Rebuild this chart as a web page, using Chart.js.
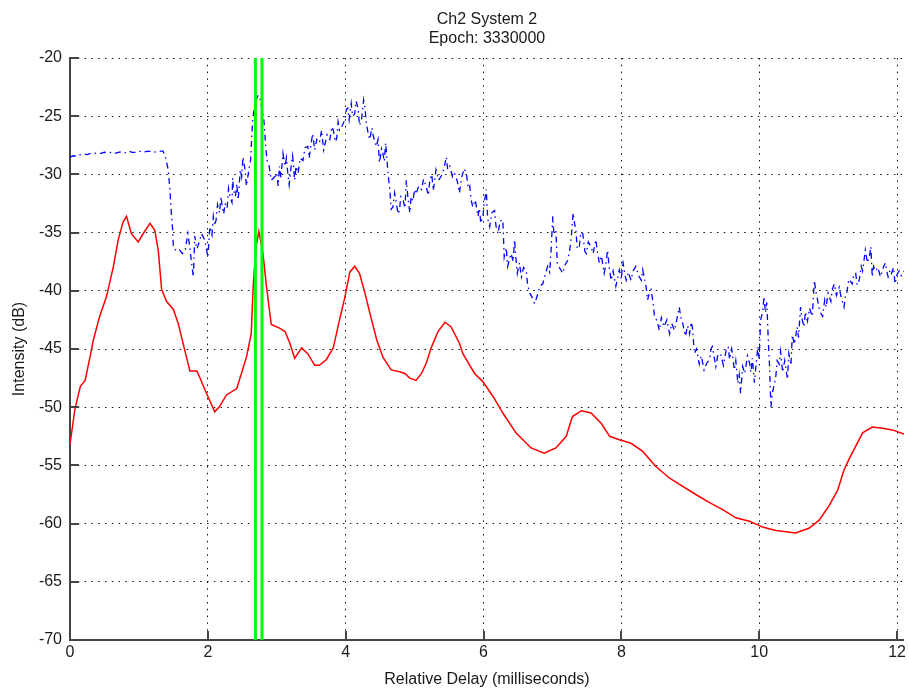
<!DOCTYPE html>
<html>
<head>
<meta charset="utf-8">
<title>Ch2 System 2</title>
<script src="https://cdn.jsdelivr.net/npm/chart.js@4/dist/chart.umd.min.js"></script>
<style>
  body { margin: 0; background: #fff; }
  canvas { display: block; }
</style>
</head>
<body>
<canvas id="delayPlot" width="909" height="692"></canvas>
<script>
// measured channel, dash-dot blue (delay in ms, level in dB)
var blueDelay = [
    0.00, 0.05, 0.10, 0.15, 0.20, 0.25, 0.30, 0.35, 0.40, 0.45, 0.50, 0.55, 0.60, 0.65, 0.70, 0.75, 0.80, 0.85, 0.90, 0.95,
    1.00, 1.05, 1.10, 1.15, 1.20, 1.25, 1.30, 1.35, 1.38, 1.40, 1.425, 1.45, 1.47, 1.49, 1.50, 1.55, 1.59, 1.63, 1.67, 1.69,
    1.71, 1.74, 1.76, 1.79, 1.81, 1.84, 1.86, 1.91, 1.96, 2.00,
    2.03, 2.06, 2.08, 2.10, 2.12, 2.14, 2.17, 2.19, 2.21, 2.23, 2.25, 2.28, 2.30, 2.32, 2.35, 2.36, 2.37, 2.40, 2.42, 2.44,
    2.45, 2.47, 2.49, 2.51, 2.54, 2.56, 2.58, 2.60, 2.62, 2.65, 2.67, 2.70, 2.73, 2.75, 2.78, 2.81, 2.84, 2.86, 2.89, 2.92,
    2.97,
    3.00, 3.02, 3.04, 3.06, 3.09, 3.12, 3.14, 3.16, 3.18, 3.21, 3.23, 3.26, 3.28, 3.31, 3.34, 3.38, 3.41, 3.45, 3.47, 3.50,
    3.52, 3.55, 3.58, 3.62, 3.65, 3.68, 3.70, 3.73, 3.77, 3.80, 3.82, 3.85, 3.87, 3.89, 3.91, 3.95, 3.99, 4.01, 4.03, 4.05,
    4.08, 4.10, 4.13, 4.15, 4.18, 4.20, 4.23, 4.26, 4.28,
    4.30, 4.33, 4.35, 4.38, 4.40, 4.445, 4.47, 4.49, 4.52, 4.54, 4.56, 4.58, 4.61, 4.63, 4.64, 4.66, 4.685, 4.71, 4.73, 4.76,
    4.78, 4.80, 4.83, 4.86, 4.88, 4.90, 4.93, 4.95, 4.975, 5.00, 5.02, 5.06, 5.10, 5.13, 5.17, 5.20, 5.22, 5.25, 5.27, 5.29,
    5.31, 5.35, 5.39, 5.43, 5.46, 5.48, 5.51, 5.55, 5.58, 5.62, 5.65, 5.68, 5.72, 5.75, 5.78, 5.80, 5.82, 5.845, 5.88, 5.92,
    5.94, 5.96, 5.99,
    6.01, 6.04, 6.06, 6.09, 6.12, 6.16, 6.18, 6.21, 6.24, 6.28, 6.30, 6.33, 6.35, 6.38, 6.40, 6.43, 6.45, 6.47, 6.49, 6.52,
    6.55, 6.58, 6.62, 6.64, 6.67, 6.70, 6.74, 6.77, 6.79, 6.82, 6.86, 6.89, 6.93, 6.96, 6.98, 7.005, 7.02, 7.05, 7.07, 7.10,
    7.15, 7.18, 7.22, 7.25, 7.27, 7.30, 7.32, 7.34, 7.36, 7.39, 7.41, 7.44, 7.47, 7.49, 7.52, 7.56, 7.59, 7.63, 7.65, 7.68,
    7.71, 7.75, 7.77, 7.80, 7.82, 7.85, 7.88, 7.92, 7.95, 7.97,
    8.00, 8.02, 8.05, 8.07, 8.10, 8.14, 8.17, 8.21, 8.25, 8.29, 8.31, 8.33, 8.36, 8.38, 8.41, 8.43, 8.46, 8.48, 8.52, 8.55,
    8.58, 8.62, 8.66, 8.70, 8.73, 8.77, 8.80, 8.84, 8.86, 8.89, 8.93, 8.96, 8.99, 9.01, 9.03, 9.06, 9.09, 9.13, 9.16, 9.20,
    9.24, 9.28, 9.30, 9.32, 9.35, 9.37, 9.40, 9.44, 9.48, 9.52, 9.55, 9.57, 9.60, 9.64, 9.66, 9.69, 9.71, 9.73, 9.76, 9.79,
    9.83, 9.86, 9.88, 9.90, 9.93, 9.95, 9.98, 10.00,
    10.02, 10.05, 10.07, 10.09, 10.11, 10.13, 10.15, 10.17, 10.19, 10.22, 10.24, 10.26, 10.29, 10.31, 10.34, 10.37, 10.41, 10.43, 10.46, 10.48,
    10.51, 10.55, 10.57, 10.60, 10.62, 10.65, 10.67, 10.70, 10.73, 10.77, 10.80, 10.82, 10.85, 10.88, 10.92, 10.95, 10.97, 11.00, 11.04, 11.06,
    11.09, 11.12, 11.16, 11.19, 11.23, 11.25, 11.27, 11.30, 11.35, 11.37, 11.40, 11.42, 11.45, 11.48, 11.50, 11.52, 11.54, 11.57, 11.60, 11.62,
    11.64, 11.66, 11.69, 11.72, 11.76, 11.80, 11.83, 11.85, 11.87, 11.90, 11.92, 11.95, 11.97, 12.00, 12.03, 12.06, 12.10];
var blueLevel = [
    -28.5, -28.4, -28.45, -28.3, -28.25, -28.3, -28.2, -28.2, -28.15, -28.2, -28.1, -28.15, -28.1, -28.2, -28.1, -28.05, -28.15, -28.0, -28.1, -28.1,
    -28.0, -28.1, -28.05, -28.0, -28.1, -28.05, -28.0, -28.0, -28.4, -28.9, -29.6, -31.3, -33.3, -34.8, -36.3, -36.6, -36.5, -36.8, -36.6, -35.8,
    -35.1, -36.3, -37.4, -38.8, -35.3, -36.4, -36.1, -35.1, -35.7, -37.1,
    -34.5, -35.2, -33.6, -34.4, -33.9, -32.6, -33.3, -31.9, -32.8, -33.4, -32.5, -32.9, -31.2, -31.9, -32.4, -30.3, -31.3, -31.9, -30.8, -32.2,
    -31.4, -29.6, -30.2, -28.5, -29.6, -31.0, -30.2, -29.4, -28.8, -25.3, -24.5, -23.6, -23.2, -23.3, -24.2, -25.1, -27.6, -28.8, -29.3, -30.5,
    -30.2,
    -29.9, -31.0, -29.3, -30.3, -28.2, -29.3, -28.6, -29.9, -30.9, -29.2, -28.4, -30.5, -29.3, -29.9, -28.6, -28.8, -27.7, -27.6, -28.6, -27.3,
    -26.5, -27.9, -27.0, -27.3, -26.2, -27.9, -27.4, -26.6, -27.0, -25.9, -26.2, -27.2, -26.9, -25.5, -26.2, -25.8, -25.3, -24.4, -24.3, -25.3,
    -23.9, -25.0, -24.8, -23.7, -24.3, -25.8, -25.3, -23.6, -24.3,
    -25.6, -26.6, -27.0, -26.0, -26.7, -27.6, -27.0, -29.0, -27.8, -28.2, -28.9, -27.3, -29.6, -30.8, -31.3, -33.0, -32.8, -31.6, -32.3, -33.4,
    -33.1, -31.9, -32.1, -32.9, -30.5, -31.8, -33.3, -31.9, -32.3, -31.3, -31.7, -31.0, -31.3, -30.4, -31.1, -31.8, -30.5, -30.0, -31.4, -30.6,
    -29.6, -30.5, -30.1, -29.4, -28.5, -29.6, -29.3, -30.2, -29.9, -30.6, -31.6, -30.3, -29.5, -29.9, -31.2, -31.0, -32.2, -32.8, -32.2, -33.6,
    -32.9, -34.2, -33.6,
    -32.5, -31.3, -33.8, -34.5, -33.3, -33.1, -34.4, -35.1, -34.0, -33.9, -37.1, -36.3, -37.9, -37.2, -36.8, -37.5, -35.6, -37.2, -38.5, -37.6,
    -38.8, -38.0, -38.3, -39.5, -40.2, -40.5, -41.1, -40.6, -40.2, -39.6, -39.4, -38.7, -37.9, -38.4, -36.5, -33.6, -35.0, -34.8, -37.6, -38.0,
    -38.5, -37.8, -37.4, -36.5, -35.6, -33.3, -34.2, -34.8, -36.4, -36.2, -35.0, -35.1, -36.6, -36.8, -35.8, -36.2, -36.8, -35.6, -36.6, -37.6,
    -37.0, -38.5, -37.9, -36.5, -37.8, -39.1, -38.3, -39.6, -38.8, -38.2,
    -39.0, -37.4, -38.6, -39.1, -38.4, -39.1, -38.3, -37.9, -38.7, -39.1, -38.2, -38.8, -39.7, -40.8, -40.1, -39.9, -41.0, -42.2, -42.6, -43.4,
    -42.3, -43.1, -42.5, -43.7, -42.8, -43.4, -42.6, -41.4, -42.2, -42.8, -43.9, -43.0, -43.7, -42.7, -43.1, -45.4, -45.0, -46.3, -45.6, -46.8,
    -46.2, -45.9, -45.0, -44.8, -45.8, -46.5, -45.5, -45.4, -46.4, -45.1, -44.8, -45.9, -45.0, -46.8, -46.0, -47.95, -47.2, -48.8, -46.5, -47.1,
    -45.6, -46.2, -47.0, -45.8, -47.9, -46.6, -44.8, -45.9,
    -42.5, -41.8, -40.5, -41.9, -41.0, -44.0, -46.5, -50.0, -48.8, -48.0, -47.4, -46.0, -46.3, -45.2, -47.0, -46.0, -47.6, -45.4, -46.4, -43.8,
    -44.6, -43.1, -44.0, -41.4, -42.4, -43.1, -41.8, -42.6, -41.5, -42.2, -39.1, -40.0, -40.9, -41.8, -42.2, -40.8, -41.4, -40.2, -40.9, -39.9,
    -39.4, -40.4, -39.7, -40.6, -41.4, -40.5, -40.2, -39.0, -39.4, -38.6, -38.5, -39.5, -39.1, -37.9, -38.3, -37.4, -36.5, -37.6, -37.0, -36.2,
    -38.8, -37.9, -38.3, -38.0, -38.8, -38.0, -37.6, -38.3, -38.8, -38.2, -38.5, -38.0, -39.4, -38.6, -38.3, -38.7, -38.3];

// smoothed channel, solid red
var redDelay = [0.00, 0.07, 0.15, 0.22, 0.30, 0.34, 0.43, 0.53, 0.63, 0.70, 0.77, 0.82, 0.89, 0.99, 1.06, 1.16, 1.23, 1.28, 1.33, 1.40,
    1.50, 1.57, 1.64, 1.74, 1.84, 1.88, 1.98, 2.10, 2.17, 2.27, 2.42, 2.56, 2.63, 2.66, 2.70, 2.74, 2.80, 2.85, 2.92, 3.04,
    3.12, 3.19, 3.26, 3.36, 3.45, 3.55, 3.62, 3.72, 3.82, 3.91, 3.99, 4.06, 4.13, 4.20, 4.28, 4.35, 4.45, 4.54, 4.66, 4.78,
    4.86, 4.93, 5.02, 5.10, 5.17, 5.24, 5.34, 5.44, 5.53, 5.65, 5.70, 5.87, 5.99, 6.14, 6.28, 6.47, 6.69, 6.88, 7.05, 7.20,
    7.29, 7.42, 7.56, 7.71, 7.83, 7.97, 8.14, 8.31, 8.50, 8.70, 8.89, 9.08, 9.28, 9.47, 9.66, 9.86, 10.05, 10.24, 10.53, 10.72,
    10.87, 11.01, 11.14, 11.23, 11.30, 11.50, 11.64, 11.79, 11.93, 12.10];
var redLevel = [-53.2, -50.2, -48.2, -47.7, -45.4, -44.2, -42.2, -40.5, -37.9, -35.6, -34.1, -33.6, -35.1, -35.8, -35.1, -34.2, -34.8, -36.5, -39.9, -40.9,
    -41.6, -42.8, -44.5, -46.9, -46.9, -47.4, -48.8, -50.4, -49.95, -48.95, -48.4, -45.7, -43.65, -39.4, -36.2, -34.9, -36.8, -39.6, -42.9, -43.2,
    -43.5, -44.5, -45.8, -44.9, -45.4, -46.4, -46.4, -45.9, -44.9, -42.5, -40.5, -38.4, -37.9, -38.5, -40.2, -41.9, -44.2, -45.7, -46.8, -46.95,
    -47.1, -47.5, -47.7, -47.1, -46.2, -44.9, -43.5, -42.7, -43.1, -44.5, -45.4, -47.1, -47.8, -49.1, -50.5, -52.2, -53.5, -53.96, -53.5, -52.5,
    -50.8, -50.3, -50.5, -51.4, -52.5, -52.8, -53.1, -53.8, -55.1, -56.1, -56.8, -57.5, -58.2, -58.8, -59.5, -59.8, -60.3, -60.6, -60.8, -60.4,
    -59.7, -58.5, -57.1, -55.4, -54.5, -52.2, -51.7, -51.8, -51.95, -52.3];

// green delay markers
var markerDelay = [2.69, 2.785];

var xTicks = [0, 2, 4, 6, 8, 10, 12];
var yTicks = [-70, -65, -60, -55, -50, -45, -40, -35, -30, -25, -20];

var axisColor = '#444';
var textColor = '#1a1a1a';
var fontFamily = '"Liberation Sans", Arial, Helvetica, sans-serif';

function toPoints(xs, ys) {
    return xs.map(function(x, i) { return { x: x, y: ys[i] }; });
}

var datasets = [];
markerDelay.forEach(function(d) {
    datasets.push({
        data: [{ x: d, y: -70 }, { x: d, y: -20 }],
        borderColor: '#00ff00',
        borderWidth: 3,
        pointRadius: 0,
        order: 0
    });
});
datasets.push({
    data: toPoints(blueDelay, blueLevel),
    borderColor: '#0000ff',
    borderWidth: 1.3,
    borderDash: [6, 4, 1.5, 4],
    pointRadius: 0,
    tension: 0,
    order: 1
});
datasets.push({
    data: toPoints(redDelay, redLevel),
    borderColor: '#ff0000',
    borderWidth: 1.5,
    pointRadius: 0,
    tension: 0,
    order: 2
});

// small tick marks pointing into the plot
var inwardTicks = {
    id: 'inwardTicks',
    afterDraw: function(chart) {
        var ctx = chart.ctx, area = chart.chartArea;
        var xs = chart.scales.x, ys = chart.scales.y;
        ctx.save();
        ctx.strokeStyle = axisColor;
        ctx.lineWidth = 2;
        ctx.beginPath();
        xs.ticks.forEach(function(t) {
            var px = Math.round(xs.getPixelForValue(t.value));
            ctx.moveTo(px, area.bottom);
            ctx.lineTo(px, area.bottom - 9);
        });
        ys.ticks.forEach(function(t) {
            var py = Math.round(ys.getPixelForValue(t.value));
            ctx.moveTo(area.left, py);
            ctx.lineTo(area.left + 9, py);
        });
        ctx.stroke();
        ctx.restore();
    }
};

var ctx = document.getElementById('delayPlot').getContext('2d');
var chart = new Chart(ctx, {
    type: 'line',
    data: { datasets: datasets },
    plugins: [inwardTicks],
    options: {
        responsive: false,
        animation: false,
        devicePixelRatio: 1,
        layout: { padding: { left: 0, right: 4, top: 0, bottom: 0 } },
        plugins: {
            legend: { display: false },
            tooltip: { enabled: false },
            title: {
                display: true,
                fullSize: false,
                text: ['Ch2 System 2', 'Epoch: 3330000'],
                color: textColor,
                font: { family: fontFamily, size: 16, weight: 'normal', lineHeight: 1.2 },
                padding: { top: 10, bottom: 9.6 }
            }
        },
        scales: {
            x: {
                type: 'linear',
                min: 0,
                max: 12.1,
                afterBuildTicks: function(scale) {
                    scale.ticks = xTicks.map(function(v) { return { value: v }; });
                },
                afterFit: function(scale) { scale.height = 52; },
                grid: { color: '#111', lineWidth: 1, drawTicks: false },
                border: { display: true, color: axisColor, width: 2, dash: [1.5, 5.3] },
                ticks: {
                    color: textColor,
                    padding: 3,
                    font: { family: fontFamily, size: 16 },
                    callback: function(v) { return String(v); }
                },
                title: {
                    display: true,
                    text: 'Relative Delay (milliseconds)',
                    color: textColor,
                    font: { family: fontFamily, size: 16 },
                    padding: { top: 0, bottom: 3 }
                }
            },
            y: {
                type: 'linear',
                min: -70,
                max: -20,
                afterBuildTicks: function(scale) {
                    scale.ticks = yTicks.map(function(v) { return { value: v }; });
                },
                afterFit: function(scale) { scale.width = 70; },
                grid: { color: '#111', lineWidth: 1, drawTicks: false },
                border: { display: true, color: axisColor, width: 2, dash: [1.5, 5.3] },
                ticks: {
                    color: textColor,
                    padding: 8,
                    font: { family: fontFamily, size: 16 },
                    callback: function(v) { return String(v); }
                },
                title: {
                    display: true,
                    text: 'Intensity (dB)',
                    color: textColor,
                    font: { family: fontFamily, size: 16 },
                    padding: { top: 10, bottom: 0 }
                }
            }
        }
    }
});
</script>
</body>
</html>
